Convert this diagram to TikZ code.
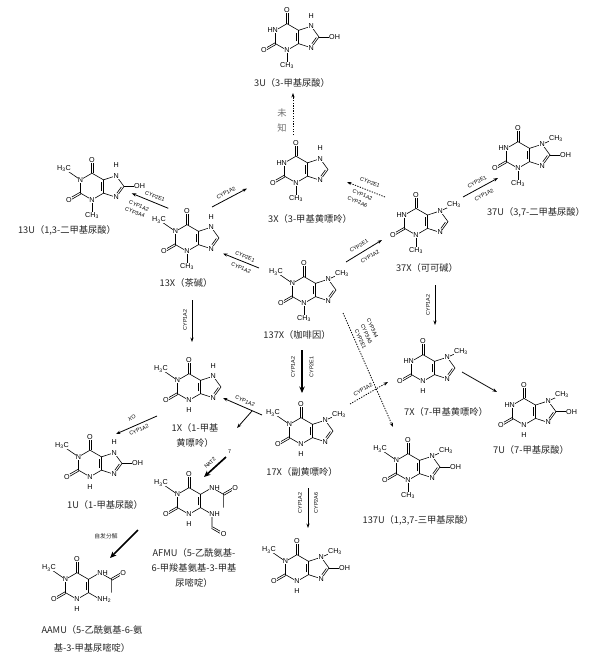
\documentclass[tikz,border=0pt]{standalone}
\usepackage{fontspec}
\setmainfont{Liberation Serif}
\setsansfont{Liberation Sans}
\newfontfamily\cjk{Noto Sans CJK SC}
\usetikzlibrary{arrows.meta,calc}

\newcommand{\bl}{13.3bp}
\tikzset{
  atom/.style={font=\sffamily\fontsize{7.2}{7.2}\selectfont, inner sep=0.3pt, fill=white},
  bond/.style={line width=0.6pt},
  enz/.style={font=\sffamily\fontsize{5.4}{5.4}\selectfont, inner sep=0pt},
  lab/.style={font=\cjk\fontsize{9.3}{15}\selectfont, text=black!85, inner sep=0pt, align=center},
  rx/.style={line width=0.8pt, -{Stealth[length=4.5pt,width=3.2pt]}},
  rxthick/.style={line width=1.7pt, -{Stealth[length=6.5pt,width=5.5pt]}},
  rxdot/.style={line width=0.8pt, dash pattern=on 1.3pt off 1.3pt, -{Stealth[length=4.5pt,width=3.2pt]}},
}
\newcommand{\dbl}[2]{\draw[bond] ($(#1)!0.95pt!90:(#2)$) -- ($(#2)!0.95pt!-90:(#1)$) ($(#1)!0.95pt!-90:(#2)$) -- ($(#2)!0.95pt!90:(#1)$);}

% xanthine / uric acid: cx, cy, N1 (M/H), N3 (M/H), N7 (M/H), C8 (O/H)
\newcommand{\xan}[6]{%
\begin{scope}[shift={(#1,#2)},x=\bl,y=\bl]
\draw[bond] (0,1) -- (-0.866,0.5) -- (-0.866,-0.5) -- (0,-1) -- (0.866,-0.5) -- (0.866,0.5) -- cycle;
\draw[bond] (0.866,0.5) -- (1.817,0.809) -- (2.405,0) -- (1.817,-0.809) -- (0.866,-0.5);
\dbl{0,1}{0,2}
\dbl{-0.866,-0.5}{-1.732,-1}
\draw[bond] (0.72,-0.33) -- (0.72,0.33);
\draw[bond] (2.205,-0.039) -- (1.869,-0.501);
\if M#3\draw[bond] (-0.866,0.5) -- (-2.1,1.35);\fi
\if M#4\draw[bond] (0,-1) -- (0,-2.15);\fi
\if M#5\draw[bond] (1.817,0.809) -- (2.85,1.26);\fi
\if O#6\draw[bond] (2.405,0) -- (3.58,0);\fi
\node[atom] at (0,2) {O};
\node[atom] at (-1.732,-1) {O};
\if M#3\node[atom] at (-0.866,0.5) {N}; \node[atom] at (-2.1,1.35) {H\textsubscript{3}C};\else\node[atom,anchor=east] at (-0.646,0.5) {HN};\fi
\node[atom] at (0,-1) {N};
\if M#4\node[atom] at (0,-2.15) {CH\textsubscript{3}};\else\node[atom] at (0,-1.75) {H};\fi
\node[atom] at (1.817,0.809) {N};
\if M#5\node[atom] at (2.85,1.26) {CH\textsubscript{3}};\else\node[atom] at (1.817,1.58) {H};\fi
\node[atom] at (1.817,-0.809) {N};
\if O#6\node[atom] at (3.58,0) {OH};\fi
\end{scope}}

% uracil derivatives: cx, cy, F (formylamino) / A (amino)
\newcommand{\pyr}[3]{%
\begin{scope}[shift={(#1,#2)},x=\bl,y=\bl]
\draw[bond] (0,1) -- (-0.866,0.5) -- (-0.866,-0.5) -- (0,-1) -- (0.866,-0.5) -- (0.866,0.5) -- cycle;
\dbl{0,1}{0,2}
\dbl{-0.866,-0.5}{-1.732,-1}
\draw[bond] (0.72,-0.33) -- (0.72,0.33);
\draw[bond] (-0.866,0.5) -- (-2.1,1.35);
\draw[bond] (0.866,0.5) -- (1.732,1.0) -- (2.598,0.5) -- (2.598,-0.5);
\dbl{2.598,0.5}{3.464,1.0}
\if F#3\draw[bond] (0.866,-0.5) -- (1.732,-1.0) -- (1.732,-2.0);
\dbl{1.732,-2.0}{2.598,-2.5}\else\draw[bond] (0.866,-0.5) -- (1.732,-1.0);\fi
\node[atom] at (0,2) {O};
\node[atom] at (-1.732,-1) {O};
\node[atom] at (-0.866,0.5) {N};
\node[atom] at (-2.1,1.35) {H\textsubscript{3}C};
\node[atom] at (0,-1) {N};
\node[atom] at (0,-1.75) {H};
\node[atom,anchor=west] at (1.5,1.0) {NH};
\node[atom] at (3.464,1.0) {O};
\if F#3\node[atom,anchor=west] at (1.5,-1.0) {NH};
\node[atom] at (2.598,-2.5) {O};\else\node[atom,anchor=west] at (1.5,-1.0) {NH\textsubscript{2}};\fi
\end{scope}}

\begin{document}
\begin{tikzpicture}[x=1bp,y=-1bp]
\useasboundingbox (0,0) rectangle (600,661);
\fill[white] (0,0) rectangle (600,661);

% ---------- molecules ----------
\xan{287}{37}{H}{M}{H}{O}      % 3U
\xan{296}{169.5}{H}{M}{H}{H}   % 3X
\xan{92}{186.5}{M}{M}{H}{O}    % 13U
\xan{187}{238}{M}{M}{H}{H}     % 13X
\xan{304}{290}{M}{M}{M}{H}     % 137X
\xan{416}{221.7}{H}{M}{M}{H}   % 37X
\xan{518}{155}{H}{M}{M}{O}     % 37U
\xan{423}{368}{H}{H}{M}{H}     % 7X
\xan{524}{411.7}{H}{H}{M}{O}   % 7U
\xan{408}{467}{M}{M}{M}{O}     % 137U
\xan{189}{387}{M}{H}{H}{H}     % 1X
\xan{301}{431}{M}{H}{M}{H}     % 17X
\xan{90}{463.5}{M}{H}{H}{O}    % 1U
\xan{297}{568}{M}{H}{M}{O}     % 17U
\pyr{189}{501}{F}              % AFMU
\pyr{77}{586}{A}               % AAMU

% ---------- names ----------
\node[lab] (l3U) at (292,83) {3U（3-甲基尿酸）};
\node[lab] (l3X) at (310,219) {3X（3-甲基黄嘌呤）};
\node[lab] (l13U) at (67,230) {13U（1,3-二甲基尿酸）};
\node[lab] (l13X) at (186,283) {13X（茶碱）};
\node[lab] (l137X) at (297,335) {137X（咖啡因）};
\node[lab] (l37X) at (427,268) {37X（可可碱）};
\node[lab] (l37U) at (536,212) {37U（3,7-二甲基尿酸）};
\node[lab] (l7X) at (446,412) {7X（7-甲基黄嘌呤）};
\node[lab] (l7U) at (531,450) {7U（7-甲基尿酸）};
\node[lab] (l137U) at (418,520) {137U（1,3,7-三甲基尿酸）};
\node[lab] (l1X) at (195,435.5) {1X（1-甲基\\黄嘌呤）};
\node[lab] (l17X) at (302,472) {17X（副黄嘌呤）};
\node[lab] (l1U) at (105,505) {1U（1-甲基尿酸）};
\node[lab] (lAFMU) at (194,568) {AFMU（5-乙酰氨基-\\6-甲羧基氨基-3-甲基\\尿嘧啶）};
\node[lab, font=\cjk\fontsize{9.3}{18}\selectfont] (lAAMU) at (92,639) {AAMU（5-乙酰氨基-6-氨\\基-3-甲基尿嘧啶）};

% ---------- arrow end points ----------
\coordinate (a1s) at (293,135);   \coordinate (a1e) at (293,93);
\coordinate (a2s) at (212,207);   \coordinate (a2e) at (247,188.5);
\coordinate (a3s) at (168.3,208.3); \coordinate (a3e) at (131.7,193.3);
\coordinate (a4s) at (259,268);   \coordinate (a4e) at (223,253.5);
\coordinate (a5s) at (346,262);   \coordinate (a5e) at (382,240);
\coordinate (a6s) at (385,197);   \coordinate (a6e) at (347,182);
\coordinate (a7s) at (463,197);   \coordinate (a7e) at (498,178);
\coordinate (a8s) at (435,285);   \coordinate (a8e) at (435,325);
\coordinate (a9s) at (192,300);   \coordinate (a9e) at (192,342);
\coordinate (a10s) at (302,350);  \coordinate (a10e) at (302,393);
\coordinate (a11s) at (262,415);  \coordinate (a11e) at (223,398);
\coordinate (a11b) at (252,411);  \coordinate (a11c) at (237,428);
\coordinate (a12s) at (157,416);  \coordinate (a12e) at (116,434);
\coordinate (a13s) at (226,457);  \coordinate (a13e) at (204,477);
\coordinate (a14s) at (138,530);  \coordinate (a14e) at (110,558);
\coordinate (a15s) at (308,488);  \coordinate (a15e) at (308,528);
\coordinate (a16s) at (343,313);  \coordinate (a16e) at (393,427);
\coordinate (a17s) at (350,404);  \coordinate (a17e) at (388,382);
\coordinate (a18s) at (462,372);  \coordinate (a18e) at (497,392);

% ---------- arrows ----------
\draw[rxdot] (a1s) -- (a1e);
\node[lab, text=black!55] (unk) at (282,120.5) {未\\知};

\draw[rx] (a2s) -- (a2e);
\node[enz, rotate=28] (e2) at (226,193) {CYP1A2};

\draw[rx] (a3s) -- (a3e);
\node[enz, rotate=-22] (e3a) at (155,196.5) {CYP2E1};
\node[enz, rotate=-22] (e3b) at (139,206) {CYP1A2};
\node[enz, rotate=-22] (e3c) at (135,212.5) {CYP3A4};

\draw[rx] (a4s) -- (a4e);
\node[enz, rotate=-23] (e4a) at (245,256.5) {CYP2E1};
\node[enz, rotate=-23] (e4b) at (241,268) {CYP1A2};

\draw[rx] (a5s) -- (a5e);
\node[enz, rotate=31] (e5a) at (359,246) {CYP2E1};
\node[enz, rotate=31] (e5b) at (370,256.7) {CYP1A2};

\draw[rxdot] (a6s) -- (a6e);
\node[enz, rotate=-22] (e6a) at (370,182.5) {CYP2E1};
\node[enz, rotate=-22] (e6b) at (362.5,195) {CYP1A2};
\node[enz, rotate=-22] (e6c) at (357.5,202) {CYP2A6};

\draw[rx] (a7s) -- (a7e);
\node[enz, rotate=28] (e7a) at (477,182) {CYP2E1};
\node[enz, rotate=28] (e7b) at (484,195) {CYP1A2};

\draw[rx] (a8s) -- (a8e);
\node[enz, rotate=90] (e8) at (428,305) {CYP1A2};

\draw[rx] (a9s) -- (a9e);
\node[enz, rotate=90] (e9) at (185,320) {CYP1A2};

\draw[rxthick] (a10s) -- (a10e);
\node[enz, rotate=90] (e10a) at (293,367) {CYP1A2};
\node[enz, rotate=90] (e10b) at (311.5,367) {CYP2E1};

\draw[rx] (a11s) -- (a11e);
\draw[rx] (a11b) -- (a11c);
\node[enz, rotate=-23] (e11) at (245,401) {CYP1A2};

\draw[rx] (a12s) -- (a12e);
\node[enz, rotate=24] (e12a) at (132,418) {XO};
\node[enz, rotate=24] (e12b) at (139,430) {CYP1A2};

\draw[rxthick] (a13s) -- (a13e);
\node[enz, rotate=42] (e13a) at (210,463) {NAT2};
\node[enz] (e13b) at (229.5,451.5) {7};

\draw[rxthick] (a14s) -- (a14e);
\node[lab, font=\cjk\fontsize{5.8}{6}\selectfont] (e14) at (106,536) {自发分解};

\draw[rx] (a15s) -- (a15e);
\node[enz, rotate=90] (e15a) at (300,503) {CYP1A2};
\node[enz, rotate=90] (e15b) at (316,503) {CYP2A6};

\draw[rxdot] (a16s) -- (a16e);
\node[enz, rotate=-66] (e16a) at (372.5,328.5) {CYP3A4};
\node[enz, rotate=-66] (e16b) at (366.5,334) {CYP3A5};
\node[enz, rotate=-66] (e16c) at (360.5,339.5) {CYP2E1};

\draw[rxdot] (a17s) -- (a17e);
\node[enz, rotate=30] (e17) at (363,389.5) {CYP1A2};

\draw[rx] (a18s) -- (a18e);
\end{tikzpicture}
\end{document}
